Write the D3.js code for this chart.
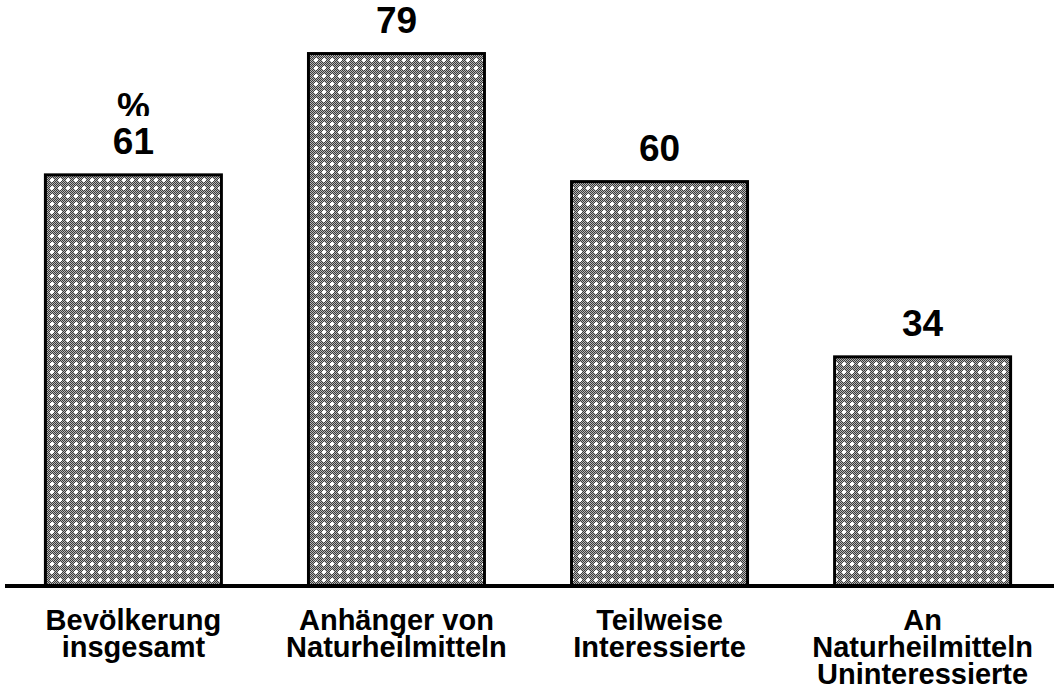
<!DOCTYPE html>
<html>
<head>
<meta charset="utf-8">
<script src="https://cdn.jsdelivr.net/npm/d3@7"></script>
<style>
  body { margin: 0; background: #fff; }
  text { font-family: Arial, "Liberation Sans", sans-serif; font-weight: bold; fill: #000; }
</style>
</head>
<body>
<div id="chart"></div>
<script>
var categories = [
  ["Bevölkerung", "insgesamt"],
  ["Anhänger von", "Naturheilmitteln"],
  ["Teilweise", "Interessierte"],
  ["An", "Naturheilmitteln", "Uninteressierte"]
];
var values = [61, 79, 60, 34];

var width = 1054, height = 697;
var baseY = 586;

var svg = d3.select("#chart").append("svg")
    .attr("width", width)
    .attr("height", height);

// fine checkerboard with white crosses
var defs = svg.append("defs");
var pat = defs.append("pattern")
    .attr("id", "dots")
    .attr("patternUnits", "userSpaceOnUse")
    .attr("width", 8)
    .attr("height", 8);
pat.append("rect").attr("width", 8).attr("height", 8).attr("fill", "#b4b4b4");
for (var i = 0; i < 8; i++) {
  for (var j = 0; j < 8; j++) {
    if ((i + j) % 2 == 0) {
      pat.append("rect").attr("x", i).attr("y", j).attr("width", 1).attr("height", 1).attr("fill", "#3a3a3a");
    }
  }
}
pat.append("rect").attr("x", 3).attr("y", 2).attr("width", 2).attr("height", 4).attr("fill", "#fff");
pat.append("rect").attr("x", 2).attr("y", 3).attr("width", 4).attr("height", 2).attr("fill", "#fff");

defs.append("clipPath").attr("id", "pctclip")
  .append("rect").attr("x", 0).attr("y", 0).attr("width", width).attr("height", 116);

var x = d3.scaleBand()
    .domain(d3.range(values.length))
    .range([2, 1054])
    .paddingInner(0.331)
    .paddingOuter(0.165);

var y = d3.scaleLinear()
    .domain([0, 100])
    .range([baseY, baseY - 674]);

svg.selectAll(".bar")
    .data(values)
    .enter().append("rect")
    .attr("class", "bar")
    .attr("x", function(d, i) { return x(i); })
    .attr("y", function(d) { return y(d); })
    .attr("width", x.bandwidth())
    .attr("height", function(d) { return y(0) - y(d); })
    .attr("fill", "url(#dots)")
    .attr("stroke", "#000")
    .attr("stroke-width", 3);

svg.selectAll(".val")
    .data(values)
    .enter().append("text")
    .attr("class", "val")
    .attr("x", function(d, i) { return x(i) + x.bandwidth() / 2; })
    .attr("y", function(d) { return y(d) - 21; })
    .attr("text-anchor", "middle")
    .style("font-size", "37px")
    .text(function(d) { return d; });

svg.append("text")
    .attr("x", x(0) + x.bandwidth() / 2)
    .attr("y", 119)
    .attr("clip-path", "url(#pctclip)")
    .attr("text-anchor", "middle")
    .style("font-size", "37px")
    .text("%");

svg.append("line")
    .attr("x1", 5)
    .attr("x2", width)
    .attr("y1", baseY)
    .attr("y2", baseY)
    .attr("stroke", "#000")
    .attr("stroke-width", 4);

var labels = svg.selectAll(".cat")
    .data(categories)
    .enter().append("text")
    .attr("class", "cat")
    .attr("text-anchor", "middle")
    .style("font-size", "29px");

labels.selectAll("tspan")
    .data(function(d, i) { return d.map(function(s) { return {s: s, i: i}; }); })
    .enter().append("tspan")
    .attr("x", function(d) { return x(d.i) + x.bandwidth() / 2; })
    .attr("y", function(d, k) { return 630 + k * 27; })
    .text(function(d) { return d.s; });
</script>
</body>
</html>
